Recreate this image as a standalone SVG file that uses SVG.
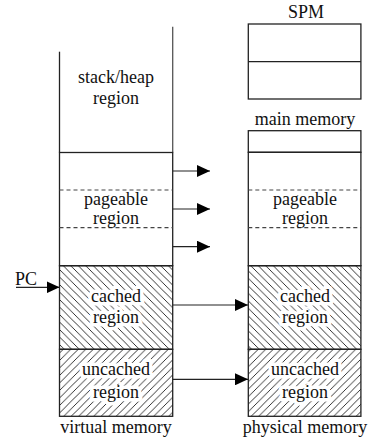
<svg xmlns="http://www.w3.org/2000/svg" width="370" height="445" viewBox="0 0 370 445">
<defs>
<style>
text{font-family:'Liberation Serif','DejaVu Serif','Times New Roman',serif;font-size:18px;fill:#111;text-anchor:middle}
.th{paint-order:stroke;stroke:#fff;stroke-width:7px;stroke-linejoin:round}
.b{fill:none;stroke:#222;stroke-width:1.3}
.g{fill:none;stroke:#555;stroke-width:1.3}
.d{fill:none;stroke:#444;stroke-width:1.2;stroke-dasharray:4 3}
.c{fill:none;stroke:#222;stroke-width:1.2}
.hl{stroke:#000;stroke-width:0.8;fill:none}
</style>
<pattern id="hb" patternUnits="userSpaceOnUse" x="0" y="0" width="7.5" height="7.5">
<path class="hl" d="M-1,-1 L8.5,8.5 M-1,6.5 L1,8.5 M6.5,-1 L8.5,1"/>
</pattern>
<pattern id="hf" patternUnits="userSpaceOnUse" x="0" y="0" width="7.5" height="7.5">
<path class="hl" d="M-1,8.5 L8.5,-1 M-1,1 L1,-1 M6.5,8.5 L8.5,6.5"/>
</pattern>
<marker id="ah" markerWidth="14" markerHeight="12" refX="13" refY="6" orient="auto" markerUnits="userSpaceOnUse">
<path d="M0,0 L13,6 L0,12 Z" fill="#000"/>
</marker>
</defs>

<g id="virtual-memory">
<g id="v-stackheap">
<line class="b" x1="59.5" y1="51.7" x2="59.5" y2="152.5"/>
<line class="g" x1="172.7" y1="26.7" x2="172.7" y2="152.5"/>
<text x="116" y="83">stack/heap</text>
<text x="116" y="104">region</text>
</g>
<g id="v-pageable">
<rect class="b" x="59.5" y="152.5" width="113.2" height="113.2"/>
<line class="d" x1="59.5" y1="190" x2="172.7" y2="190"/>
<line class="d" x1="59.5" y1="227.7" x2="172.7" y2="227.7"/>
<text x="116" y="205">pageable</text>
<text x="116" y="224">region</text>
</g>
<g id="v-cached">
<rect x="59.5" y="265.7" width="113.2" height="83.6" fill="url(#hb)"/>
<rect class="b" x="59.5" y="265.7" width="113.2" height="83.6"/>
<text class="th" x="116" y="302">cached</text>
<text class="th" x="116" y="323">region</text>
</g>
<g id="v-uncached">
<rect x="59.5" y="349.3" width="113.2" height="67" fill="url(#hf)"/>
<rect class="b" x="59.5" y="349.3" width="113.2" height="67"/>
<text class="th" x="116" y="375">uncached</text>
<text class="th" x="116" y="398">region</text>
</g>
<text x="116" y="433">virtual memory</text>
</g>

<g id="spm">
<text x="306" y="18">SPM</text>
<rect class="b" x="248.3" y="24" width="112.6" height="75"/>
<line class="b" x1="248.3" y1="61.7" x2="360.9" y2="61.7"/>
</g>

<g id="physical-memory">
<text x="305" y="125">main memory</text>
<rect class="b" x="248.3" y="130.7" width="112.6" height="21.6"/>
<g id="p-pageable">
<rect class="b" x="248.3" y="152.3" width="112.6" height="113.4"/>
<line class="d" x1="248.3" y1="190" x2="360.9" y2="190"/>
<line class="d" x1="248.3" y1="227.7" x2="360.9" y2="227.7"/>
<text x="305" y="205">pageable</text>
<text x="305" y="224">region</text>
</g>
<g id="p-cached">
<rect x="248.3" y="265.7" width="112.6" height="83.6" fill="url(#hb)"/>
<rect class="b" x="248.3" y="265.7" width="112.6" height="83.6"/>
<text class="th" x="305" y="302">cached</text>
<text class="th" x="305" y="323">region</text>
</g>
<g id="p-uncached">
<rect x="248.3" y="349.3" width="112.6" height="67" fill="url(#hf)"/>
<rect class="b" x="248.3" y="349.3" width="112.6" height="67"/>
<text class="th" x="305" y="375">uncached</text>
<text class="th" x="305" y="398">region</text>
</g>
<text x="305" y="433">physical memory</text>
</g>

<g id="pc">
<text x="26" y="285">PC</text>
</g>

<g id="connectors">
<line class="c" x1="16" y1="287.3" x2="59.5" y2="287.3" marker-end="url(#ah)"/>
<line class="c" x1="173" y1="171" x2="210" y2="171" marker-end="url(#ah)"/>
<line class="c" x1="173" y1="209" x2="210" y2="209" marker-end="url(#ah)"/>
<line class="c" x1="173" y1="246.7" x2="210" y2="246.7" marker-end="url(#ah)"/>
<line class="c" x1="173" y1="305" x2="248" y2="305" marker-end="url(#ah)"/>
<line class="c" x1="173" y1="379.3" x2="248" y2="379.3" marker-end="url(#ah)"/>
</g>
</svg>
